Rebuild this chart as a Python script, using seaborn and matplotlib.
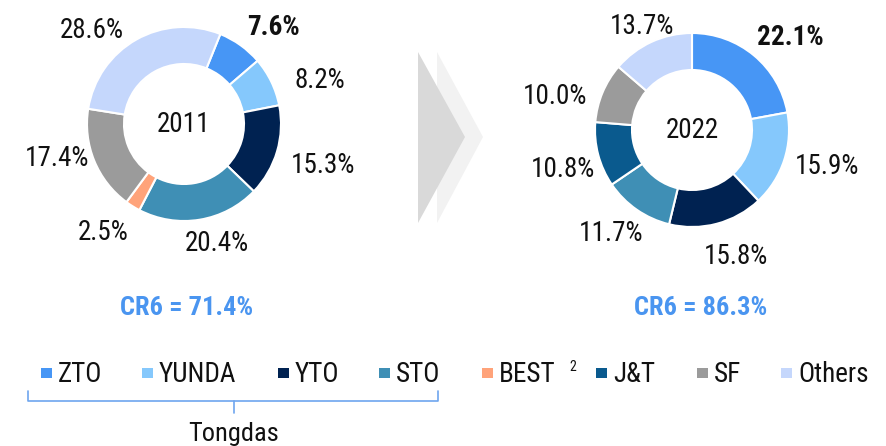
import math
import matplotlib
matplotlib.use("Agg")
import matplotlib.pyplot as plt
import seaborn as sns
from matplotlib.patches import Polygon, Rectangle

# ---------------- data ----------------
companies = ["ZTO", "YUNDA", "YTO", "STO", "BEST", "J&T", "SF", "Others"]
share_2011 = [7.6, 8.2, 15.3, 20.4, 2.5, 0.0, 17.4, 28.6]
share_2022 = [22.1, 15.9, 15.8, 11.7, 0.0, 10.8, 10.0, 13.7]
years = ["2011", "2022"]
cr6_labels = ["CR6 = 71.4%", "CR6 = 86.3%"]
group_label = "Tongdas"
footnote_company = "BEST"
footnote_mark = "2"

# ---------------- style / layout ----------------
palette = ["#4796F5", "#85C8FC", "#002251", "#3F8FB5", "#FFA37A",
           "#0A5A8E", "#9B9B9B", "#C5D7FC"]
accent = "#4A95F0"
ink = "#111111"

# small label nudges (pixels, +y downward), one per drawn wedge
nudge_2011 = [(-6, 0), (4, 8), (-7, 8), (-18, 3), (7, 8), (15, -10), (-2, 10)]
nudge_2022 = [(-6, -7), (-3, 2), (-17, 19), (15, 12), (11, 11), (-2, 10), (29, -2)]

sns.set_theme(style="white")
plt.rcParams["font.family"] = ["Roboto Condensed", "Liberation Sans Narrow",
                               "Roboto", "DejaVu Sans"]

W, H = 886, 446
fig = plt.figure(figsize=(W / 100, H / 100), dpi=100)
ax = fig.add_axes([0, 0, 1, 1])


def Y(y):
    return H - y


R = 97
RING = 37
FS = 19.5


def donut(values, center, start, labeldist, year, nudges):
    vals, cols = [], []
    for v, c in zip(values, palette):
        if v > 0:
            vals.append(v)
            cols.append(c)
    cx, cy = center[0], Y(center[1])
    wedges, _ = ax.pie(
        vals, colors=cols, startangle=start, counterclock=False,
        center=(cx, cy), radius=R,
        wedgeprops=dict(width=RING, edgecolor="white", linewidth=1.5),
    )
    for i, (w, v, (dx, dy)) in enumerate(zip(wedges, vals, nudges)):
        mid = math.radians((w.theta1 + w.theta2) / 2)
        c, s = math.cos(mid), math.sin(mid)
        x = cx + labeldist * R * c + dx
        y = cy + labeldist * R * s - dy
        ha = "left" if c > 0.05 else ("right" if c < -0.05 else "center")
        ax.text(x, y, f"{v:.1f}%", ha=ha, va="center", fontsize=FS,
                color=ink, fontweight="bold" if i == 0 else "normal")
    ax.text(cx, cy, year, ha="center", va="center", fontsize=FS, color=ink)


donut(share_2011, (184, 124), 68, 1.22, years[0], nudge_2011)
donut(share_2022, (692, 130), 90, 1.15, years[1], nudge_2022)

# CR6 texts
for x, t in zip([187, 701], cr6_labels):
    ax.text(x, Y(308), t, ha="center", va="center", fontsize=19,
            fontweight="bold", color=accent)

# chevrons between the donuts
ax.add_patch(Polygon([(437, Y(52)), (483, Y(137)), (437, Y(223))],
                     closed=True, facecolor="#F2F2F2", edgecolor="none"))
ax.add_patch(Polygon([(418, Y(52)), (465, Y(137)), (418, Y(223))],
                     closed=True, facecolor="#D9D9D9", edgecolor="none"))

# legend
leg_x = [41, 142, 278, 379, 482, 596, 697, 781]
for x, name, col in zip(leg_x, companies, palette):
    ax.add_patch(Rectangle((x, Y(378)), 11, 10, facecolor=col, edgecolor="none"))
    ax.text(x + 17, Y(374), name, ha="left", va="center", fontsize=19.5,
            color=ink)
    if name == footnote_company:
        ax.text(569, Y(367), footnote_mark, ha="left", va="center",
                fontsize=10, color=ink)

# bracket for the group
bx0, bx1, bmid = 28, 438, 234
ax.plot([bx0, bx0, bx1, bx1], [Y(391), Y(401), Y(401), Y(391)],
        color="#6EA6EF", lw=1.2, solid_joinstyle="round")
ax.plot([bmid, bmid], [Y(401), Y(413)], color="#6EA6EF", lw=1.2)
ax.text(bmid, Y(434), group_label, ha="center", va="center", fontsize=19,
        color=ink)

ax.set_xlim(0, W)
ax.set_ylim(0, H)
ax.set_aspect("equal")
ax.axis("off")
fig.savefig("out.png", dpi=100, facecolor="white")
